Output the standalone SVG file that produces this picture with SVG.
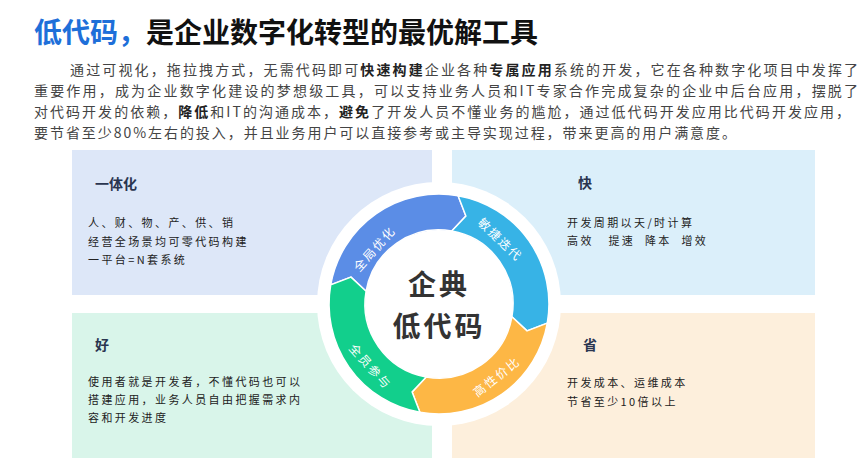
<svg xmlns="http://www.w3.org/2000/svg" width="865" height="467" viewBox="0 0 865 467">
<style>
text{font-family:"Noto Sans CJK SC","Noto Sans",sans-serif}
.p{font-size:14px;fill:#444}
.b{font-weight:bold;fill:#222}
.h{font-size:14px;font-weight:bold;fill:#2a3550}
.t{font-size:11px;fill:#222;letter-spacing:2.4px}
.s{font-size:12px;fill:#fff;text-anchor:middle;letter-spacing:2px}
.seg{stroke:#fff;stroke-width:1.5}
</style>
<defs>
<path id="seg" d="M -108.3,-19.1 A110 110 0 0 1 19.1,-108.3 L 26.9,-88.0 L 12.8,-72.9 A74 74 0 0 0 -72.9,-12.8 L -88.0,-26.9 Z"/>
</defs>
<rect width="865" height="467" fill="#fff"/>
<g id="title">
<text x="34" y="43" font-size="28" font-weight="bold"><tspan fill="#1e6fd9">低代码，</tspan><tspan fill="#111">是企业数字化转型的最优解工具</tspan></text>
</g>
<g id="intro">
<text class="p" x="70" y="75" textLength="788" lengthAdjust="spacing">通过可视化，拖拉拽方式，无需代码即可<tspan class="b">快速构建</tspan>企业各种<tspan class="b">专属应用</tspan>系统的开发，它在各种数字化项目中发挥了</text>
<text class="p" x="34" y="96" textLength="824" lengthAdjust="spacing">重要作用，成为企业数字化建设的梦想级工具，可以支持业务人员和IT专家合作完成复杂的企业中后台应用，摆脱了</text>
<text class="p" x="34" y="117" textLength="816" lengthAdjust="spacing">对代码开发的依赖，<tspan class="b">降低</tspan>和IT的沟通成本，<tspan class="b">避免</tspan>了开发人员不懂业务的尴尬，通过低代码开发应用比代码开发应用，</text>
<text class="p" x="34" y="138" textLength="702" lengthAdjust="spacing">要节省至少80%左右的投入，并且业务用户可以直接参考或主导实现过程，带来更高的用户满意度。</text>
</g>
<g id="box-tl"><rect x="72" y="150" width="360" height="145" fill="#dde7f8"/>
<text class="h" x="95" y="189">一体化</text>
<text class="t" x="88" y="227">人、财、物、产、供、销</text>
<text class="t" x="88" y="246">经营全场景均可零代码构建</text>
<text class="t" x="88" y="264">一平台=N套系统</text></g>
<g id="box-tr"><rect x="452" y="150" width="363" height="145" fill="#dbeffa"/>
<text class="h" x="578" y="188">快</text>
<text class="t" x="567" y="227">开发周期以天/时计算</text>
<text class="t" x="567" y="245" xml:space="preserve">高效   提速  降本  增效</text></g>
<g id="box-bl"><rect x="72" y="313" width="360" height="145" fill="#d9f5ea"/>
<text class="h" x="95" y="350">好</text>
<text class="t" x="88" y="386">使用者就是开发者，不懂代码也可以</text>
<text class="t" x="88" y="404">搭建应用，业务人员自由把握需求内</text>
<text class="t" x="88" y="422">容和开发进度</text></g>
<g id="box-br"><rect x="452" y="313" width="363" height="145" fill="#fdefdc"/>
<text class="h" x="583" y="350">省</text>
<text class="t" x="567" y="387">开发成本、运维成本</text>
<text class="t" x="567" y="406">节省至少10倍以上</text></g>
<g id="wheel" transform="translate(439,304)">
<circle r="122" fill="#fff"/>
<use href="#seg" class="seg" fill="#5b8de6"/>
<use href="#seg" class="seg" fill="#37b3e6" transform="rotate(90)"/>
<use href="#seg" class="seg" fill="#fdb745" transform="rotate(180)"/>
<use href="#seg" class="seg" fill="#12cf8c" transform="rotate(270)"/>
<text class="s" transform="translate(-64,-55) rotate(-48)" y="4">全局优化</text>
<text class="s" transform="translate(61,-64) rotate(44)" y="4">敏捷迭代</text>
<text class="s" transform="translate(58,73) rotate(-38)" y="4">高性价比</text>
<text class="s" transform="translate(-69,63) rotate(48)" y="4">全员参与</text>
<text x="0" y="-9" font-size="28" font-weight="bold" fill="#333" text-anchor="middle" letter-spacing="3">企典</text>
<text x="0" y="33" font-size="28" font-weight="bold" fill="#333" text-anchor="middle" letter-spacing="3">低代码</text>
</g>
</svg>
